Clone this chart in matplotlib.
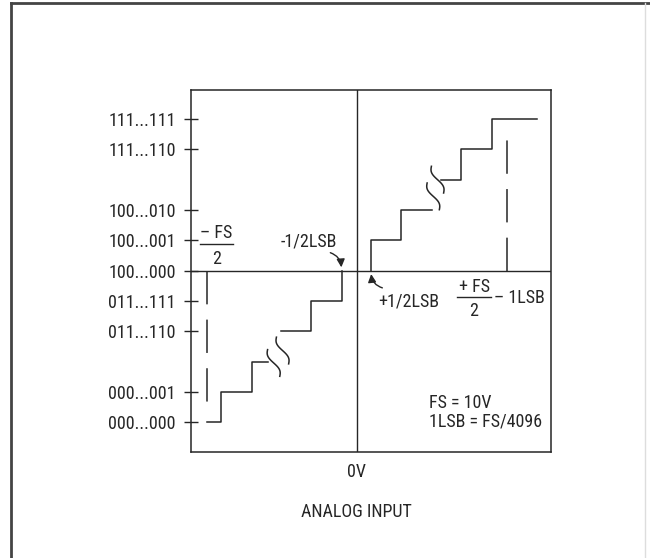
import numpy as np
import matplotlib
matplotlib.use("Agg")
import matplotlib.pyplot as plt
from matplotlib.lines import Line2D

plt.rcParams['font.family'] = ['Liberation Sans Narrow', 'Roboto Condensed', 'Liberation Sans', 'DejaVu Sans']
plt.rcParams['lines.scale_dashes'] = False

# output codes (y, in LSB steps from mid-scale)
level_ticks = [-5, -4, -2, -1, 0, 1, 2, 4, 5]
code_labels = ['000...000', '000...001', '011...110', '011...111', '100...000',
               '100...001', '100...010', '111...110', '111...111']

# staircase pieces: transition edges (analog input, LSB) and output level
left_lo_x = [-4.92, -4.45, -3.42, -2.90]
left_lo_y = [-5, -4, -3, -3]
left_hi_x = [-2.49, -1.50, -0.49, -0.49]
left_hi_y = [-2, -1, 0, 0]
right_lo_x = [0.47, 0.47, 1.45, 2.46]
right_lo_y = [0, 1, 2, 2]
right_hi_x = [2.76, 3.41, 4.43, 5.90]
right_hi_y = [3, 4, 5, 5]

# full scale markers (dashed)
neg_fs_x, neg_fs_top = -4.92, -4.38
pos_fs_x, pos_fs_top = 4.92, 4.45

# break symbols (centres)
break_x = [-2.72, -2.43, 2.51, 2.65]
break_y = [-3.04, -2.63, 2.45, 3.00]

ink = '#262626'

fig = plt.figure(figsize=(6.5, 5.58), dpi=100)
ax = fig.add_axes([191 / 650, 1 - 451.9 / 558, 359.7 / 650, 362.1 / 558])
ax.set_xlim(-5.43, 6.36)
ax.set_ylim(-5.97, 5.96)

for s in ax.spines.values():
    s.set_color(ink)
    s.set_linewidth(1.1)

ax.axhline(0, color=ink, lw=1.0)
ax.axvline(0, color=ink, lw=1.0)

for xs, ys in [(left_lo_x, left_lo_y), (left_hi_x, left_hi_y),
               (right_lo_x, right_lo_y), (right_hi_x, right_hi_y)]:
    ax.step(xs, ys, where='post', color=ink, lw=1.1)

ax.plot([neg_fs_x, neg_fs_x], [0, neg_fs_top], color=ink, lw=1.1, dashes=(24, 11))
ax.plot([pos_fs_x, pos_fs_x], [0, pos_fs_top], color=ink, lw=1.1, dashes=(24, 11))

t = np.linspace(-1, 1, 40)
for cx, cy in zip(break_x, break_y):
    ax.plot(cx + 0.2 * t + 0.09 * np.sin(np.pi * t), cy - 0.44 * t, color=ink, lw=1.1)

fs = 13
ax.set_yticks(level_ticks)
ax.set_yticklabels(code_labels)
ax.tick_params(axis='y', direction='inout', length=10, width=1.0, pad=6,
               labelsize=fs, colors=ink)
ax.set_xticks([0])
ax.set_xticklabels(['0V'])
ax.tick_params(axis='x', length=0, pad=8, labelsize=fs, colors=ink)
ax.set_xlabel('ANALOG INPUT', fontsize=fs, color=ink, labelpad=16)
ax.xaxis.label.set_x(0.4607)

# -FS/2
ax.text(-4.6, 1.25, '\u2013 FS', fontsize=fs, color=ink, ha='center', va='center')
ax.plot([-5.14, -4.06], [0.89, 0.89], color=ink, lw=1.0)
ax.text(-4.58, 0.40, '2', fontsize=fs, color=ink, ha='center', va='center')

# +FS/2 - 1LSB
ax.text(3.85, -0.53, '+ FS', fontsize=fs, color=ink, ha='center', va='center')
ax.plot([3.28, 4.39], [-0.88, -0.88], color=ink, lw=1.0)
ax.text(3.85, -1.34, '2', fontsize=fs, color=ink, ha='center', va='center')
ax.text(4.5, -0.89, '\u2013 1LSB', fontsize=fs, color=ink, ha='left', va='center')

# half-LSB callouts
ax.text(-1.56, 0.97, '-1/2LSB', fontsize=fs, color=ink, ha='center', va='center')
ax.annotate('', xy=(-0.50, 0.02), xytext=(-0.95, 0.62),
            arrowprops=dict(arrowstyle='-|>', connectionstyle='arc3,rad=-0.4',
                            color=ink, lw=1.0, mutation_scale=12))
ax.text(1.70, -1.02, '+1/2LSB', fontsize=fs, color=ink, ha='center', va='center')
ax.annotate('', xy=(0.47, -0.02), xytext=(0.93, -0.59),
            arrowprops=dict(arrowstyle='-|>', connectionstyle='arc3,rad=-0.4',
                            color=ink, lw=1.0, mutation_scale=12))

ax.text(2.37, -4.35, 'FS = 10V', fontsize=fs, color=ink, ha='left', va='center')
ax.text(2.37, -4.97, '1LSB = FS/4096', fontsize=fs, color=ink, ha='left', va='center')

# outer frame
fig.add_artist(Line2D([11 / 650, 11 / 650], [0, 1 - 3 / 558], color='#444444', lw=2.0,
                      transform=fig.transFigure))
fig.add_artist(Line2D([11 / 650, 1], [1 - 3 / 558, 1 - 3 / 558], color='#444444', lw=2.0,
                      transform=fig.transFigure))
fig.add_artist(Line2D([645 / 650, 645 / 650], [0, 1 - 3 / 558], color='#dddddd', lw=1.0,
                      transform=fig.transFigure))

fig.savefig('out.png', dpi=100)
